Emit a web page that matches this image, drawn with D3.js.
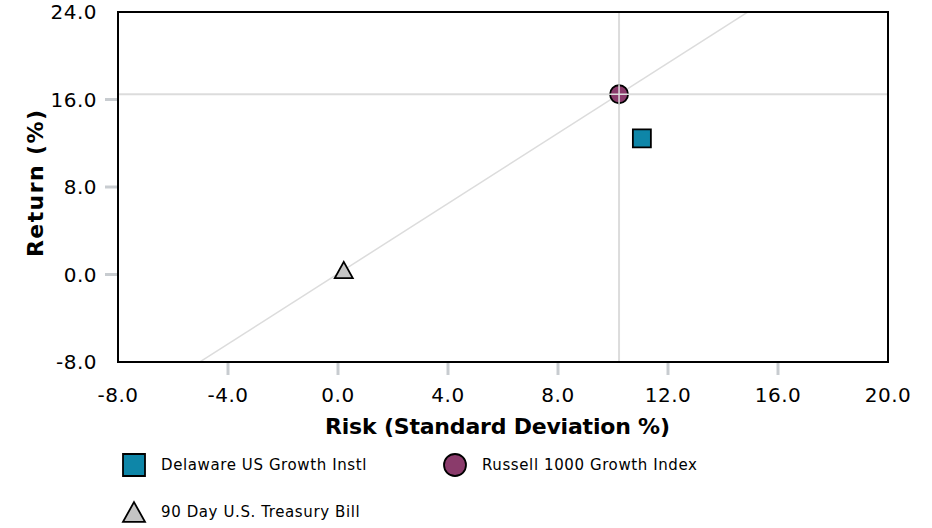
<!DOCTYPE html>
<html>
<head>
<meta charset="utf-8">
<script src="https://cdn.jsdelivr.net/npm/d3@7"></script>
<style>
  body { margin: 0; background: #fff; }
  text { font-family: "DejaVu Sans", Verdana, sans-serif; }
</style>
</head>
<body>
<div id="chart"></div>
<script>
// data
var names = ["Delaware US Growth Instl", "Russell 1000 Growth Index", "90 Day U.S. Treasury Bill"];
var risk = [11.05, 10.22, 0.21];
var ret = [12.45, 16.48, 0.41];
var colors = ["#0e86a8", "#8a3b6b", "#c4c4c4"];
var shapes = ["square", "circle", "triangle"];
var xTicks = [-8, -4, 0, 4, 8, 12, 16, 20];
var yTicks = [-8, 0, 8, 16, 24];

var margin = { top: 12, right: 44, bottom: 166, left: 118 },
    width = 932 - margin.left - margin.right,
    height = 528 - margin.top - margin.bottom;

var x = d3.scaleLinear().domain([-8, 20]).range([0, width]);
var y = d3.scaleLinear().domain([-8, 24]).range([height, 0]);

var svg = d3.select("#chart")
    .append("svg")
    .attr("width", 932)
    .attr("height", 528)
    .append("g")
    .attr("transform", "translate(" + margin.left + "," + margin.top + ")");

svg.append("clipPath").attr("id", "clip")
    .append("rect").attr("width", width).attr("height", height);

var plot = svg.append("g").attr("clip-path", "url(#clip)");

// crosshair at the benchmark
plot.append("line")
    .attr("x1", x(risk[1])).attr("x2", x(risk[1]))
    .attr("y1", 0).attr("y2", height)
    .attr("stroke", "#dcdcdc").attr("stroke-width", 2);
plot.append("line")
    .attr("x1", 0).attr("x2", width)
    .attr("y1", y(ret[1])).attr("y2", y(ret[1]))
    .attr("stroke", "#dcdcdc").attr("stroke-width", 2);

// capital market line: risk free -> benchmark, extended
var slope = (ret[1] - ret[2]) / (risk[1] - risk[2]);
var cml = [-8, 20].map(function (r) { return [r, ret[2] + slope * (r - risk[2])]; });
plot.append("line")
    .attr("x1", x(cml[0][0])).attr("y1", y(cml[0][1]))
    .attr("x2", x(cml[1][0])).attr("y2", y(cml[1][1]))
    .attr("stroke", "#dcdcdc").attr("stroke-width", 1.5);

// ticks
svg.selectAll(".xtick")
    .data(xTicks.filter(function (d) { return d > -8 && d < 20; }))
    .enter().append("line")
    .attr("x1", function (d) { return x(d); })
    .attr("x2", function (d) { return x(d); })
    .attr("y1", height + 1).attr("y2", height + 13)
    .attr("stroke", "#c8ccd0").attr("stroke-width", 3);

svg.selectAll(".ytick")
    .data(yTicks.filter(function (d) { return d > -8 && d < 24; }))
    .enter().append("line")
    .attr("x1", -13).attr("x2", -1)
    .attr("y1", function (d) { return y(d); })
    .attr("y2", function (d) { return y(d); })
    .attr("stroke", "#c8ccd0").attr("stroke-width", 3);

svg.selectAll(".xlab")
    .data(xTicks).enter().append("text")
    .attr("x", function (d) { return x(d); })
    .attr("y", height + 40)
    .attr("text-anchor", "middle")
    .attr("font-size", 20)
    .attr("letter-spacing", 0.5)
    .text(function (d) { return d.toFixed(1); });

svg.selectAll(".ylab")
    .data(yTicks).enter().append("text")
    .attr("x", -21)
    .attr("y", function (d) { return y(d); })
    .attr("dy", "0.36em")
    .attr("text-anchor", "end")
    .attr("font-size", 20)
    .attr("letter-spacing", 0.5)
    .text(function (d) { return d.toFixed(1); });

// axis titles
svg.append("text")
    .attr("x", 497.5 - margin.left)
    .attr("y", height + 72)
    .attr("text-anchor", "middle")
    .attr("font-size", 22)
    .attr("font-weight", "bold")
    .attr("textLength", 345)
    .attr("lengthAdjust", "spacing")
    .text("Risk (Standard Deviation %)");

svg.append("text")
    .attr("transform", "rotate(-90)")
    .attr("x", -(183.5 - margin.top))
    .attr("y", -75)
    .attr("text-anchor", "middle")
    .attr("font-size", 22)
    .attr("font-weight", "bold")
    .attr("textLength", 147)
    .attr("lengthAdjust", "spacing")
    .text("Return (%)");

// frame
svg.append("rect")
    .attr("width", width).attr("height", height)
    .attr("fill", "none").attr("stroke", "#000").attr("stroke-width", 2);

function symbolPath(s, size) {
    if (s == "square") return d3.symbol(d3.symbolSquare, size * size)();
    if (s == "circle") return d3.symbol(d3.symbolCircle, Math.PI * size * size / 4)();
    var h = size * 0.9, w = size;
    return "M0," + (-h / 2) + "L" + (w / 2) + "," + (h / 2) + "L" + (-w / 2) + "," + (h / 2) + "Z";
}

// points (benchmark drawn on top)
svg.selectAll(".pt")
    .data([2, 0, 1]).enter().append("path")
    .attr("transform", function (i) { return "translate(" + x(risk[i]) + "," + y(ret[i]) + ")"; })
    .attr("d", function (i) { return symbolPath(shapes[i], 18); })
    .attr("fill", function (i) { return colors[i]; })
    .attr("stroke", "#000").attr("stroke-width", 1.8);

// crosshair shows through the benchmark marker, like the reference
svg.append("line")
    .attr("x1", x(risk[1]) - 10).attr("x2", x(risk[1]) + 10)
    .attr("y1", y(ret[1])).attr("y2", y(ret[1]))
    .attr("stroke", "#dcdcdc").attr("stroke-width", 1.5);
svg.append("line")
    .attr("x1", x(risk[1])).attr("x2", x(risk[1]))
    .attr("y1", y(ret[1]) - 10).attr("y2", y(ret[1]) + 10)
    .attr("stroke", "#dcdcdc").attr("stroke-width", 1.5);

// legend
var legPos = [[16, 465], [337, 465], [16, 512]];
var legend = d3.select("svg").append("g")
    .selectAll("g").data([0, 1, 2]).enter().append("g")
    .attr("transform", function (i) { return "translate(" + (legPos[i][0] + 118) + "," + legPos[i][1] + ")"; });

legend.append("path")
    .attr("d", function (i) { return symbolPath(shapes[i], 22); })
    .attr("fill", function (i) { return colors[i]; })
    .attr("stroke", "#000").attr("stroke-width", 1.8);

legend.append("text")
    .attr("x", 27)
    .attr("dy", "0.36em")
    .attr("font-size", 15)
    .attr("letter-spacing", 0.6)
    .text(function (i) { return names[i]; });
</script>
</body>
</html>
